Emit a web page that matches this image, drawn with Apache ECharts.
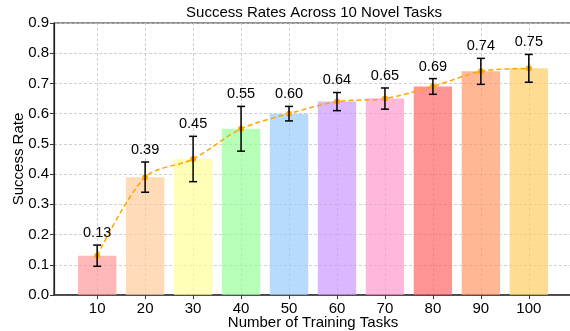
<!DOCTYPE html>
<html>
<head>
<meta charset="utf-8">
<script src="https://cdn.jsdelivr.net/npm/echarts@6/dist/echarts.min.js"></script>
<style>
  html, body { margin: 0; padding: 0; background: #fff; }
  #chart { width: 570px; height: 331px; }
</style>
</head>
<body>
<div id="chart"></div>
<script>
// Number of training tasks (x positions of the bars)
const trainingTasks = [10, 20, 30, 40, 50, 60, 70, 80, 90, 100];
// Mean success rate on the 10 novel tasks
const successRates = [0.13, 0.39, 0.45, 0.55, 0.60, 0.64, 0.65, 0.69, 0.74, 0.75];
// Half-length of each error bar
const errors = [0.035, 0.05, 0.075, 0.074, 0.024, 0.03, 0.035, 0.026, 0.043, 0.046];
// Value labels above each bar
const valueLabels = ['0.13', '0.39', '0.45', '0.55', '0.60', '0.64', '0.65', '0.69', '0.74', '0.75'];
// Y tick values
const yTicks = [0, 0.1, 0.2, 0.3, 0.4, 0.5, 0.6, 0.7, 0.8, 0.9];

const barColors = ['#ff9999', '#ffcc99', '#ffff99', '#99ff99', '#99ccff',
                   '#cc99ff', '#ff99cc', '#ff6666', '#ff9966', '#ffcc66'];
const BAR_WIDTH = 8;      // in x-axis units
const FONT = '"Liberation Sans", Arial, sans-serif';

const chart = echarts.init(document.getElementById('chart'), null, { renderer: 'canvas' });

const rows = trainingTasks.map((t, i) => [t, successRates[i], errors[i], i]);

chart.setOption({
  animation: false,
  backgroundColor: '#fff',
  title: {
    text: 'Success Rates Across 10 Novel Tasks',
    left: 314,
    top: 5,
    textAlign: 'center',
    padding: 0,
    textStyle: { fontFamily: FONT, fontSize: 15, fontWeight: 'normal', color: '#000' }
  },
  grid: {
    left: 54, right: -2, top: 23, bottom: 36,
    show: true, borderColor: '#222', borderWidth: 1.2,
    outerBoundsMode: 'none'
  },
  xAxis: {
    type: 'value',
    min: 1, max: 109,
    name: 'Number of Training Tasks',
    nameLocation: 'middle',
    nameGap: 20,
    nameMoveOverlap: false,
    nameTextStyle: { fontFamily: FONT, fontSize: 15, color: '#000' },
    axisLine: { show: true, lineStyle: { color: '#333', width: 1.5 } },
    axisTick: { show: true, length: 4, customValues: trainingTasks, lineStyle: { color: '#333' } },
    axisLabel: {
      customValues: trainingTasks, margin: 6,
      fontFamily: FONT, fontSize: 15, color: '#000'
    },
    splitLine: { show: true, lineStyle: { color: '#c4c4c4', type: [3, 2], width: 0.8 } }
  },
  yAxis: {
    type: 'value',
    min: 0, max: 0.9, interval: 0.1,
    name: 'Success Rate',
    nameLocation: 'middle',
    nameGap: 28,
    nameMoveOverlap: false,
    nameTextStyle: { fontFamily: FONT, fontSize: 15, color: '#000' },
    axisLine: { show: true, lineStyle: { color: '#222', width: 1.2 } },
    axisTick: { show: true, length: 4, lineStyle: { color: '#333' } },
    axisLabel: {
      margin: 5, fontFamily: FONT, fontSize: 15, color: '#000',
      formatter: v => v.toFixed(1)
    },
    splitLine: { show: true, lineStyle: { color: '#c4c4c4', type: [3, 2], width: 0.8 } }
  },
  series: [
    {
      // bars, centred on each task count
      type: 'custom',
      data: rows,
      z: 2,
      renderItem: (params, api) => {
        const x = api.value(0), y = api.value(1), idx = api.value(3);
        const p0 = api.coord([x - BAR_WIDTH / 2, y]);
        const p1 = api.coord([x + BAR_WIDTH / 2, 0]);
        return {
          type: 'rect',
          shape: { x: p0[0], y: p0[1], width: p1[0] - p0[0], height: p1[1] - p0[1] },
          style: { fill: barColors[idx], opacity: 0.7 }
        };
      }
    },
    {
      // trend line through the means
      type: 'line',
      data: trainingTasks.map((t, i) => [t, successRates[i]]),
      smooth: 0.3,
      z: 3,
      symbol: 'circle',
      symbolSize: 6,
      itemStyle: { color: '#ffa500' },
      lineStyle: { color: '#ffa500', width: 1.5, type: [5, 3] }
    },
    {
      // error bars and value labels
      type: 'custom',
      data: rows,
      z: 4,
      renderItem: (params, api) => {
        const x = api.value(0), y = api.value(1), e = api.value(2), idx = api.value(3);
        const top = api.coord([x, y + e]);
        const bot = api.coord([x, y - e]);
        const lab = api.coord([x, y + e + 0.015]);
        const cap = 4;
        const ls = { stroke: '#000', lineWidth: 1.5 };
        return {
          type: 'group',
          children: [
            { type: 'line', shape: { x1: top[0], y1: top[1], x2: bot[0], y2: bot[1] }, style: ls },
            { type: 'line', shape: { x1: top[0] - cap, y1: top[1], x2: top[0] + cap, y2: top[1] }, style: ls },
            { type: 'line', shape: { x1: bot[0] - cap, y1: bot[1], x2: bot[0] + cap, y2: bot[1] }, style: ls },
            {
              type: 'text',
              x: lab[0], y: lab[1],
              style: {
                text: valueLabels[idx],
                fill: '#000',
                font: '14.5px ' + FONT,
                align: 'center',
                verticalAlign: 'bottom'
              }
            }
          ]
        };
      }
    }
  ]
});
</script>
</body>
</html>
